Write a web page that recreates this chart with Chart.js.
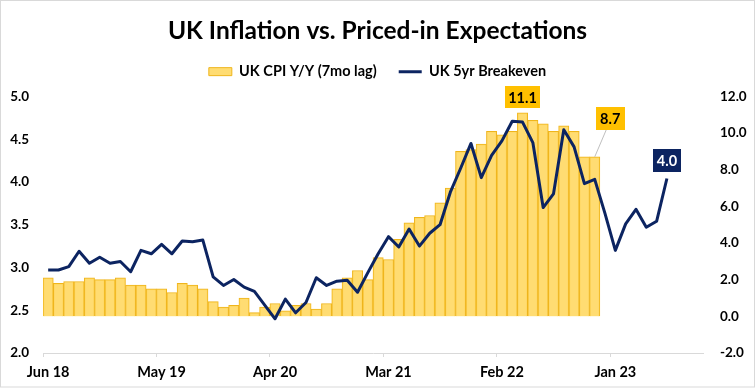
<!DOCTYPE html>
<html><head><meta charset="utf-8">
<script src="https://cdn.jsdelivr.net/npm/chart.js@4.4.1/dist/chart.umd.min.js"></script>
<style>html,body{margin:0;padding:0;background:#fff;}#wrap{width:755px;height:389px;position:relative;}</style>
</head><body><div id="wrap"><canvas id="c" width="755" height="389"></canvas></div>
<script>
const months = [
 'Jun 18','Jul 18','Aug 18','Sep 18','Oct 18','Nov 18','Dec 18',
 'Jan 19','Feb 19','Mar 19','Apr 19','May 19','Jun 19','Jul 19','Aug 19','Sep 19','Oct 19','Nov 19','Dec 19',
 'Jan 20','Feb 20','Mar 20','Apr 20','May 20','Jun 20','Jul 20','Aug 20','Sep 20','Oct 20','Nov 20','Dec 20',
 'Jan 21','Feb 21','Mar 21','Apr 21','May 21','Jun 21','Jul 21','Aug 21','Sep 21','Oct 21','Nov 21','Dec 21',
 'Jan 22','Feb 22','Mar 22','Apr 22','May 22','Jun 22','Jul 22','Aug 22','Sep 22','Oct 22','Nov 22','Dec 22',
 'Jan 23','Feb 23','Mar 23','Apr 23','May 23','Jun 23','Jul 23','Aug 23','Sep 23'
];
// UK CPI Y/Y, shifted (7mo lag) — right axis
const cpiLagged = [
 2.1,
 1.8,1.9,1.9,2.1,2.0,2.0,2.1,1.7,1.7,1.5,1.5,1.3,
 1.8,1.7,1.5,0.8,0.5,0.6,1.0,0.2,0.5,0.7,0.3,0.6,
 0.7,0.4,0.7,1.5,2.1,2.5,2.0,3.2,3.1,4.2,5.1,5.4,
 5.5,6.2,7.0,9.0,9.1,9.4,10.1,9.9,10.1,11.1,10.7,10.5,
 10.1,10.4,10.1,8.7,8.7
];
// UK 5yr breakeven — left axis
const breakeven5y = [
 2.97,2.97,3.01,3.19,3.05,3.12,3.05,3.07,2.95,3.20,3.16,3.27,3.16,3.31,3.30,3.32,
 2.89,2.79,2.86,2.77,2.72,2.56,2.40,2.63,2.47,2.59,2.88,2.79,2.84,2.85,2.71,2.94,
 3.16,3.36,3.24,3.45,3.25,3.40,3.50,3.88,4.16,4.45,4.05,4.31,4.48,4.71,4.70,4.46,
 3.70,3.86,4.61,4.41,3.98,4.03,3.63,3.20,3.51,3.68,3.47,3.54,4.04
];
const labelEvery = 11;

const NAVY = '#0c2461';
const GOLD_FILL = 'rgba(255,217,102,0.92)';
const GOLD_EDGE = '#efb51c';
const GOLD_BOX = '#ffc000';
const FONT = 'Lato, "Open Sans", sans-serif';

const frame = {
  id: 'frame',
  beforeDraw(chart) {
    const c = chart.ctx;
    c.save(); c.fillStyle = '#fff'; c.fillRect(0, 0, chart.width, chart.height); c.restore();
  },
  afterDraw(chart) {
    const c = chart.ctx;
    c.save(); c.strokeStyle = '#d9d9d9'; c.lineWidth = 1;
    c.strokeRect(0.5, 0.5, chart.width - 1, chart.height - 2.5); c.restore();
  }
};

function box(c, cx, cy, w, h, bg, fg, text) {
  c.save();
  c.fillStyle = bg;
  c.fillRect(Math.round(cx - w / 2), Math.round(cy - h / 2), w, h);
  c.fillStyle = fg;
  c.font = 'bold 14.5px ' + FONT;
  c.textAlign = 'center'; c.textBaseline = 'middle';
  c.fillText(text, cx, cy + 1);
  c.restore();
}

const valueLabels = {
  id: 'valueLabels',
  afterDatasetsDraw(chart) {
    const c = chart.ctx;
    const bars = chart.getDatasetMeta(0).data;
    const pts = chart.getDatasetMeta(1).data;
    const peak = cpiLagged.indexOf(Math.max(...cpiLagged));
    const pb = bars[peak];
    box(c, pb.x, pb.y - 15.5, 35, 22, GOLD_BOX, '#000', cpiLagged[peak].toFixed(1));
    const last = cpiLagged.length - 1;
    const lb = bars[last];
    c.save(); c.strokeStyle = '#bfbfbf'; c.lineWidth = 1;
    c.beginPath(); c.moveTo(lb.x, lb.y); c.lineTo(lb.x + 11.5, lb.y - 27); c.stroke(); c.restore();
    box(c, lb.x + 15.5, lb.y - 38.5, 29, 23, GOLD_BOX, '#000', cpiLagged[last].toFixed(1));
    const li = breakeven5y.length - 1;
    const lp = pts[li];
    box(c, lp.x, lp.y - 18.5, 28, 23, NAVY, '#fff', breakeven5y[li].toFixed(1));
  }
};

const tickFont = { family: FONT, size: 13.5, weight: 'bold' };

new Chart(document.getElementById('c'), {
  data: {
    labels: months,
    datasets: [
      { type: 'bar', label: 'UK CPI Y/Y (7mo lag)', data: cpiLagged, yAxisID: 'y1',
        backgroundColor: GOLD_FILL, borderColor: GOLD_EDGE, borderWidth: 1,
        barPercentage: 1, categoryPercentage: 1, order: 2 },
      { type: 'line', label: 'UK 5yr Breakeven', data: breakeven5y, yAxisID: 'y',
        borderColor: NAVY, backgroundColor: NAVY, borderWidth: 3, pointRadius: 0,
        tension: 0, fill: false, borderJoinStyle: 'round', order: 1 }
    ]
  },
  options: {
    responsive: false, animation: false, devicePixelRatio: 1,
    layout: { padding: { top: 0, left: 0, right: 0, bottom: 0 } },
    plugins: {
      tooltip: { enabled: false },
      title: { display: true, text: 'UK Inflation vs. Priced-in Expectations', color: '#000',
        font: { family: FONT, size: 24.5, weight: 'bold' }, padding: { top: 16, bottom: -3 } },
      subtitle: { display: true, text: '', weight: 500, font: { size: 7.5, lineHeight: 1 }, padding: 0 },
      legend: { display: true, position: 'top',
        labels: {
          color: '#000', font: { family: FONT, size: 14.5, weight: 'bold' },
          usePointStyle: true, pointStyleWidth: 23, boxHeight: 8, padding: 22,
          generateLabels: () => [
            { text: 'UK CPI Y/Y (7mo lag)', fillStyle: GOLD_FILL, strokeStyle: GOLD_EDGE, lineWidth: 1, pointStyle: 'rect', datasetIndex: 0, hidden: false, fontColor: '#000' },
            { text: 'UK 5yr Breakeven', fillStyle: NAVY, strokeStyle: NAVY, lineWidth: 3, pointStyle: 'line', datasetIndex: 1, hidden: false, fontColor: '#000' }
          ]
        } }
    },
    scales: {
      x: { type: 'category', offset: true,
        grid: { offset: true, drawOnChartArea: false, drawTicks: true, tickLength: 4,
          color: (ctx) => (ctx.index % labelEvery === 0 ? '#d9d9d9' : 'rgba(0,0,0,0)') },
        border: { display: true, color: '#d9d9d9' },
        ticks: { autoSkip: false, maxRotation: 0, minRotation: 0, padding: 7, color: '#000',
          font: { family: FONT, size: 14.5, weight: 'bold' },
          callback: (v, i) => (i % labelEvery === 0 ? months[i] : '') },
        afterFit: (s) => { s.height = 36; } },
      y: { position: 'left', min: 2, max: 5,
        grid: { display: false, drawTicks: false }, border: { display: false },
        ticks: { stepSize: 0.5, padding: 14, color: '#000', font: tickFont,
          callback: (v) => v.toFixed(1) },
        afterFit: (s) => { s.width = 43; } },
      y1: { position: 'right', min: -2, max: 12,
        grid: { display: false, drawTicks: false }, border: { display: false },
        ticks: { stepSize: 2, padding: 17, color: '#000', font: tickFont,
          callback: (v) => v.toFixed(1) },
        afterFit: (s) => { s.width = 52; } }
    }
  },
  plugins: [frame, valueLabels]
});
</script></body></html>
